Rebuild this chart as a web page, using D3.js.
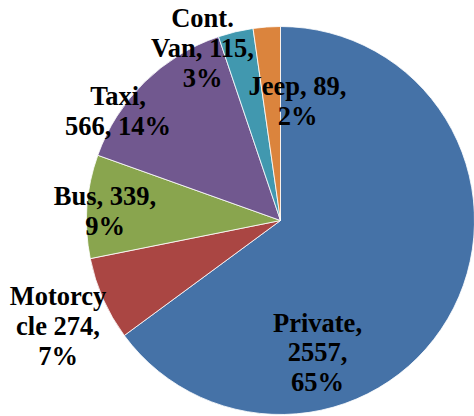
<!DOCTYPE html>
<html>
<head>
<meta charset="utf-8">
<script src="https://cdn.jsdelivr.net/npm/d3@7"></script>
<style>
  html, body { margin: 0; padding: 0; background: #fff; }
  svg { display: block; }
  .lbl { font-family: "Liberation Serif", "Times New Roman", serif; font-weight: bold; font-size: 26.5px; fill: #000; }
</style>
</head>
<body>
<svg id="chart" width="474" height="416"></svg>
<script>
// Vehicle categories, clockwise from 12 o'clock
const categories = ["Private", "Motorcycle", "Bus", "Taxi", "Cont. Van", "Jeep"];
const counts = [2557, 274, 339, 566, 115, 89];
const colors = ["#4572A7", "#AA4643", "#89A54E", "#71588F", "#4198AF", "#DB843D"];
// Data label lines as printed on each slice
const labelLines = [
  ["Private,", "2557,", "65%"],
  ["Motorcy", "cle 274,", "7%"],
  ["Bus, 339,", "9%"],
  ["Taxi,", "566, 14%"],
  ["Cont.", "Van, 115,", "3%"],
  ["Jeep, 89,", "2%"]
];
// Label anchor (centre x, first baseline y) for each category
const labelAnchors = [
  [317.5, 331.5],
  [58, 305],
  [105, 205],
  [118, 105],
  [202.5, 27],
  [297.5, 95]
];

const svg = d3.select("#chart");
const cx = 280.5, cy = 220.5, radius = 194;
const lineGap = 29.8;

const pie = d3.pie().sort(null).value(d => d.value);
const arc = d3.arc().innerRadius(0).outerRadius(radius);

const data = categories.map((c, i) => ({ name: c, value: counts[i], color: colors[i], lines: labelLines[i], anchor: labelAnchors[i] }));

const g = svg.append("g").attr("transform", `translate(${cx},${cy})`);
g.selectAll("path")
  .data(pie(data))
  .join("path")
  .attr("d", arc)
  .attr("fill", d => d.data.color)
  .attr("stroke", "#fff")
  .attr("stroke-width", 0.8);

const labels = svg.append("g");
data.forEach(d => {
  const t = labels.append("text")
    .attr("class", "lbl")
    .attr("text-anchor", "middle");
  d.lines.forEach((line, j) => {
    t.append("tspan")
      .attr("x", d.anchor[0])
      .attr("y", d.anchor[1] + j * lineGap)
      .text(line);
  });
});
</script>
</body>
</html>
